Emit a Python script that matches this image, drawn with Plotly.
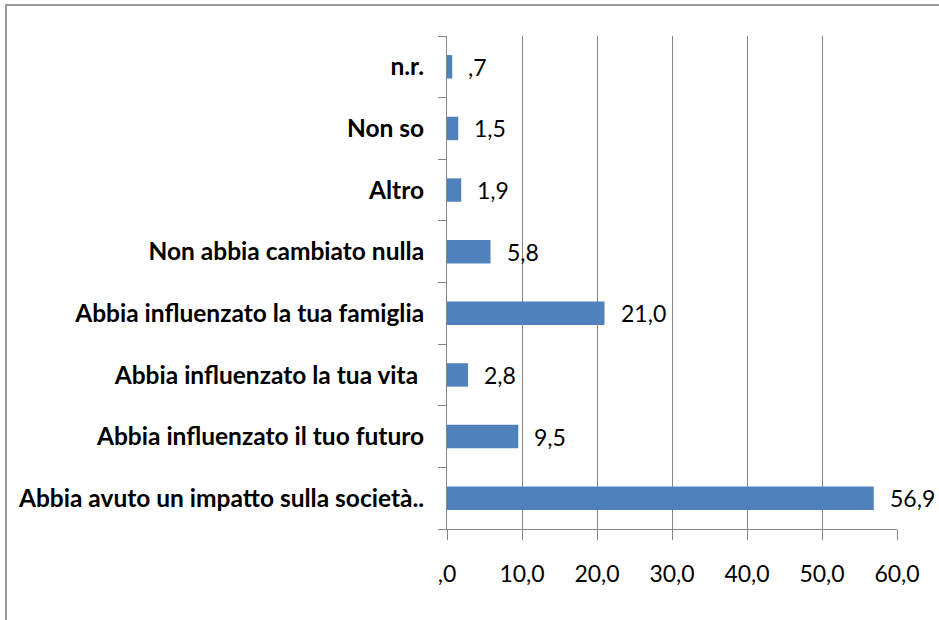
import plotly.graph_objects as go

categories = [
    "Abbia avuto un impatto sulla società..",
    "Abbia influenzato il tuo futuro",
    "Abbia influenzato la tua vita ",
    "Abbia influenzato la tua famiglia",
    "Non abbia cambiato nulla",
    "Altro",
    "Non so",
    "n.r.",
]
values = [56.9, 9.5, 2.8, 21.0, 5.8, 1.9, 1.5, 0.7]
tick_vals = [0, 10, 20, 30, 40, 50, 60]


def it_fmt(v):
    s = f"{v:.1f}".replace(".", ",")
    if s.startswith("0,"):
        s = s[1:]
    return s


tick_text = [it_fmt(v) for v in tick_vals]
labels = [it_fmt(v) for v in values]

FONT = "Lato"
fig = go.Figure()
fig.add_trace(go.Bar(
    y=categories, x=values, orientation="h",
    marker=dict(color="#4F81BD", line=dict(width=0)),
    width=0.38, hoverinfo="skip",
))
for c, v, t in zip(categories, values, labels):
    fig.add_annotation(x=v, y=c, text=t, showarrow=False, xanchor="left",
                       xshift=14, font=dict(family=FONT, size=23, color="#000"))

fig.update_layout(
    width=939, height=620,
    margin=dict(l=447, r=42, t=36, b=91),
    paper_bgcolor="white", plot_bgcolor="white",
    showlegend=False,
    font=dict(family=FONT, size=23, color="#000"),
)
fig.update_xaxes(
    range=[0, 60], tickvals=tick_vals, ticktext=tick_text,
    tickfont=dict(size=23),
    showgrid=True, gridcolor="#858585", gridwidth=1,
    showline=True, linecolor="#858585", linewidth=1,
    ticks="outside", ticklen=10, tickcolor="#858585",
    ticklabelstandoff=14, zeroline=False, fixedrange=True,
)
fig.update_yaxes(
    categoryorder="array", categoryarray=categories,
    tickfont=dict(size=24.5, weight="bold"),
    showline=True, linecolor="#858585", linewidth=1,
    ticks="outside", ticklen=8, tickcolor="#858585",
    tickson="boundaries", showgrid=False, ticklabelstandoff=17,
    fixedrange=True,
)
fig.add_shape(type="rect", xref="paper", yref="paper",
              x0=-441 / 450, x1=1.2, y0=-0.5, y1=1 + 31 / 493,
              line=dict(color="#9a9a9a", width=2), fillcolor="rgba(0,0,0,0)")
fig.write_html("out.html", config={"displayModeBar": False},
               post_script="document.body.style.margin='0';")
